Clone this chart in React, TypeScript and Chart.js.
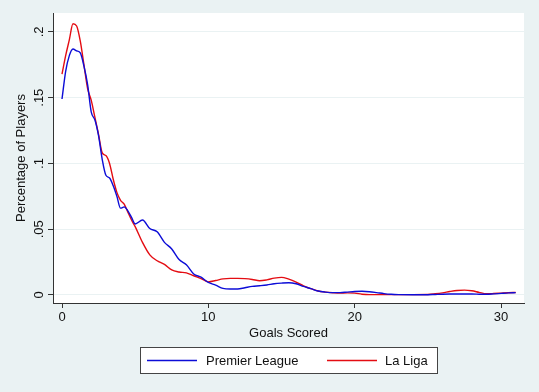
import React, { useEffect, useRef } from "react";
import { Chart, registerables } from "chart.js";

Chart.register(...registerables);

const goals = [0, 0.25, 0.5, 0.75, 1, 1.25, 1.5, 1.75, 2, 2.25, 2.5, 2.75, 3, 3.25, 3.5, 3.75, 4, 4.25, 4.5, 4.75, 5, 5.5, 6, 6.5, 7, 7.5, 8, 8.5, 9, 9.5, 10, 10.5, 11, 11.5, 12, 12.5, 13, 13.5, 14, 14.5, 15, 15.5, 16, 16.5, 17, 17.5, 18, 18.5, 19, 19.5, 20, 20.5, 21, 21.5, 22, 22.5, 23, 24, 25, 25.5, 26, 26.5, 27, 27.5, 28, 28.5, 29, 29.5, 30, 30.5, 31];

const premierLeague = [0.149, 0.170, 0.182, 0.187, 0.1856, 0.184, 0.174, 0.16, 0.139, 0.133, 0.121, 0.103, 0.091, 0.089, 0.083, 0.075, 0.066, 0.067, 0.064, 0.059, 0.054, 0.057, 0.0505, 0.048, 0.040, 0.035, 0.027, 0.023, 0.016, 0.0135, 0.0095, 0.0075, 0.005, 0.0045, 0.0045, 0.0055, 0.0065, 0.007, 0.0076, 0.0085, 0.009, 0.0093, 0.0085, 0.0065, 0.0048, 0.003, 0.0022, 0.0018, 0.0018, 0.0022, 0.0026, 0.0028, 0.0025, 0.0018, 0.001, 0.0005, 0.0003, 0.0002, 0.0002, 0.0004, 0.0006, 0.0007, 0.0007, 0.0007, 0.0007, 0.0006, 0.0005, 0.0008, 0.0012, 0.0016, 0.0018];

const laLiga = [0.168, 0.182, 0.194, 0.2062, 0.2045, 0.193, 0.175, 0.157, 0.148, 0.135, 0.122, 0.108, 0.106, 0.100, 0.088, 0.078, 0.072, 0.069, 0.063, 0.057, 0.052, 0.040, 0.0305, 0.026, 0.0232, 0.019, 0.0175, 0.0168, 0.0146, 0.0125, 0.010, 0.011, 0.0122, 0.0126, 0.0126, 0.0124, 0.0118, 0.0108, 0.0115, 0.0128, 0.0134, 0.012, 0.0098, 0.007, 0.0048, 0.003, 0.0022, 0.0017, 0.0014, 0.0016, 0.0014, 0.0006, 0.0003, 0.0003, 0.0003, 0.0003, 0.0003, 0.0003, 0.0004, 0.0009, 0.0016, 0.0026, 0.0034, 0.0037, 0.0032, 0.002, 0.0009, 0.0011, 0.0014, 0.0017, 0.0019];

const xTicks = [0, 10, 20, 30];
const yTicks = [0, 0.05, 0.1, 0.15, 0.2];
const yTickLabels = ["0", ".05", ".1", ".15", ".2"];
const seriesNames = ["Premier League", "La Liga"];
const seriesColors = ["rgb(12,12,215)", "rgb(228,12,18)"];

const FONT = "'Liberation Sans', Arial, Helvetica, sans-serif";
const BG = "rgb(234,242,243)";

export default function App() {
  const ref = useRef<HTMLCanvasElement | null>(null);

  useEffect(() => {
    document.body.style.margin = "0";
    const canvas = ref.current;
    if (!canvas) return;

    const bgPlugin = {
      id: "stataBg",
      beforeDraw(chart: any) {
        const { ctx, chartArea: a } = chart;
        ctx.save();
        ctx.fillStyle = BG;
        ctx.fillRect(0, 0, chart.width, chart.height);
        ctx.fillStyle = "#ffffff";
        ctx.fillRect(a.left, a.top, a.right - a.left, a.bottom - a.top);
        ctx.restore();
      },
      afterDraw(chart: any) {
        const { ctx } = chart;
        const ys = chart.scales.y;
        const a = chart.chartArea;
        ctx.save();
        ctx.fillStyle = "#111";
        ctx.font = `13px ${FONT}`;
        ctx.textAlign = "center";
        ctx.textBaseline = "middle";
        yTicks.forEach((v, i) => {
          const py = ys.getPixelForValue(v);
          ctx.save();
          ctx.translate(a.left - 14, py);
          ctx.rotate(-Math.PI / 2);
          ctx.fillText(yTickLabels[i], 0, 0);
          ctx.restore();
        });
        // legend
        const boxL = 140, boxT = 347, boxW = 297, boxH = 26;
        ctx.fillStyle = "#ffffff";
        ctx.fillRect(boxL, boxT, boxW, boxH);
        ctx.strokeStyle = "#444";
        ctx.lineWidth = 1;
        ctx.strokeRect(boxL + 0.5, boxT + 0.5, boxW, boxH);
        const items = [
          { x: 147, tx: 206 },
          { x: 327, tx: 385 },
        ];
        items.forEach((it, i) => {
          const cy = boxT + 13.5;
          ctx.strokeStyle = seriesColors[i];
          ctx.lineWidth = 1.3;
          ctx.beginPath();
          ctx.moveTo(it.x, cy);
          ctx.lineTo(it.x + 50, cy);
          ctx.stroke();
          ctx.fillStyle = "#111";
          ctx.textAlign = "left";
          ctx.textBaseline = "middle";
          ctx.fillText(seriesNames[i], it.tx, cy + 0.5);
        });
        ctx.restore();
      },
    };

    const chart = new Chart(canvas, {
      type: "line",
      data: {
        datasets: [premierLeague, laLiga].map((vals, i) => ({
          label: seriesNames[i],
          data: goals.map((g, j) => ({ x: g, y: vals[j] })),
          borderColor: seriesColors[i],
          borderWidth: 1.4,
          pointRadius: 0,
          fill: false,
          cubicInterpolationMode: "monotone" as const,
        })),
      },
      options: {
        responsive: false,
        animation: false,
        devicePixelRatio: 1,
        layout: { padding: { left: 0, top: 13, right: 15, bottom: 49 } },
        plugins: {
          legend: { display: false },
          tooltip: { enabled: false },
        },
        scales: {
          x: {
            type: "linear",
            min: -0.615,
            max: 31.57,
            afterFit: (s: any) => {
              s.height = 40;
            },
            afterBuildTicks: (s: any) => {
              s.ticks = xTicks.map((v) => ({ value: v }));
            },
            grid: {
              drawOnChartArea: false,
              drawTicks: true,
              tickLength: 5,
              tickColor: "#333",
            },
            border: { display: true, color: "#333", width: 1 },
            ticks: {
              color: "#111",
              font: { family: FONT, size: 13 },
              padding: 2,
              maxRotation: 0,
              autoSkip: false,
              callback: (v: any) => String(v),
            },
            title: {
              display: true,
              text: "Goals Scored",
              color: "#111",
              font: { family: FONT, size: 13 },
              padding: { top: 0, bottom: 2 },
            },
          },
          y: {
            type: "linear",
            min: -0.0061,
            max: 0.2144,
            afterFit: (s: any) => {
              s.width = 53;
            },
            afterBuildTicks: (s: any) => {
              s.ticks = yTicks.map((v) => ({ value: v }));
            },
            grid: {
              color: BG,
              lineWidth: 1,
              drawTicks: true,
              tickLength: 5,
              tickColor: "#333",
            },
            border: { display: true, color: "#333", width: 1 },
            ticks: { display: false },
            title: {
              display: true,
              text: "Percentage of Players",
              color: "#111",
              font: { family: FONT, size: 13 },
              padding: { top: 14, bottom: 0 },
            },
          },
        },
      },
      plugins: [bgPlugin],
    });

    return () => chart.destroy();
  }, []);

  return (
    <div style={{ width: 539, height: 392 }}>
      <canvas ref={ref} width={539} height={392} />
    </div>
  );
}
